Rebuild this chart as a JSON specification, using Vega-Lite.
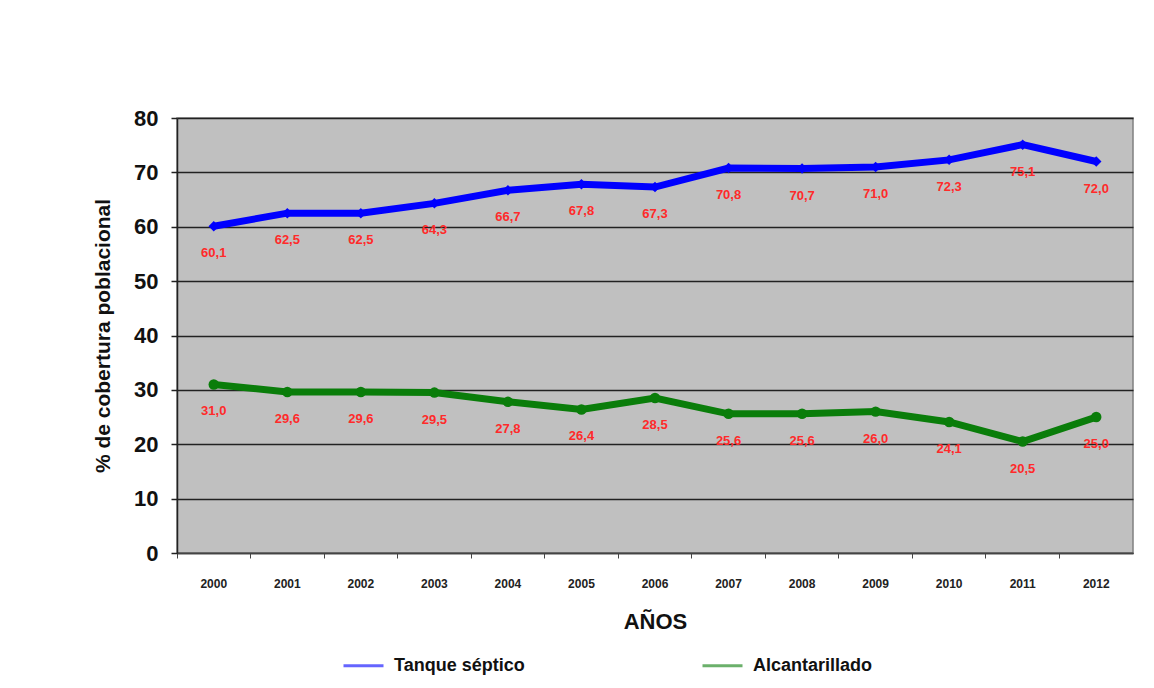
{
  "$schema": "https://vega.github.io/schema/vega-lite/v6.json",
  "width": 956,
  "height": 435,
  "autosize": {"type": "none"},
  "padding": {"left": 177, "top": 118, "right": 21, "bottom": 135},
  "background": "white",
  "data": {
    "values": [
      {"year": "2000", "serie": "Tanque séptico", "value": 60.1, "label": "60,1"},
      {"year": "2001", "serie": "Tanque séptico", "value": 62.5, "label": "62,5"},
      {"year": "2002", "serie": "Tanque séptico", "value": 62.5, "label": "62,5"},
      {"year": "2003", "serie": "Tanque séptico", "value": 64.3, "label": "64,3"},
      {"year": "2004", "serie": "Tanque séptico", "value": 66.7, "label": "66,7"},
      {"year": "2005", "serie": "Tanque séptico", "value": 67.8, "label": "67,8"},
      {"year": "2006", "serie": "Tanque séptico", "value": 67.3, "label": "67,3"},
      {"year": "2007", "serie": "Tanque séptico", "value": 70.8, "label": "70,8"},
      {"year": "2008", "serie": "Tanque séptico", "value": 70.7, "label": "70,7"},
      {"year": "2009", "serie": "Tanque séptico", "value": 71.0, "label": "71,0"},
      {"year": "2010", "serie": "Tanque séptico", "value": 72.3, "label": "72,3"},
      {"year": "2011", "serie": "Tanque séptico", "value": 75.1, "label": "75,1"},
      {"year": "2012", "serie": "Tanque séptico", "value": 72.0, "label": "72,0"},
      {"year": "2000", "serie": "Alcantarillado", "value": 31.0, "label": "31,0"},
      {"year": "2001", "serie": "Alcantarillado", "value": 29.6, "label": "29,6"},
      {"year": "2002", "serie": "Alcantarillado", "value": 29.6, "label": "29,6"},
      {"year": "2003", "serie": "Alcantarillado", "value": 29.5, "label": "29,5"},
      {"year": "2004", "serie": "Alcantarillado", "value": 27.8, "label": "27,8"},
      {"year": "2005", "serie": "Alcantarillado", "value": 26.4, "label": "26,4"},
      {"year": "2006", "serie": "Alcantarillado", "value": 28.5, "label": "28,5"},
      {"year": "2007", "serie": "Alcantarillado", "value": 25.6, "label": "25,6"},
      {"year": "2008", "serie": "Alcantarillado", "value": 25.6, "label": "25,6"},
      {"year": "2009", "serie": "Alcantarillado", "value": 26.0, "label": "26,0"},
      {"year": "2010", "serie": "Alcantarillado", "value": 24.1, "label": "24,1"},
      {"year": "2011", "serie": "Alcantarillado", "value": 20.5, "label": "20,5"},
      {"year": "2012", "serie": "Alcantarillado", "value": 25.0, "label": "25,0"}
    ]
  },
  "encoding": {
    "x": {
      "field": "year",
      "type": "ordinal",
      "scale": {"type": "band", "paddingInner": 0, "paddingOuter": 0},
      "axis": {
        "title": "AÑOS",
        "titleFont": "Liberation Sans",
        "titleFontSize": 22,
        "titleFontWeight": "bold",
        "titleColor": "#111",
        "titlePadding": 22,
        "labelAngle": 0,
        "labelFont": "Liberation Sans",
        "labelFontSize": 12,
        "labelFontWeight": "bold",
        "labelColor": "#222",
        "labelPadding": 20,
        "bandPosition": 0,
        "ticks": true,
        "tickSize": 5,
        "tickColor": "#444",
        "domainColor": "#444",
        "domainWidth": 1.5,
        "grid": false
      }
    },
    "y": {
      "field": "value",
      "type": "quantitative",
      "scale": {"domain": [0, 80], "nice": false},
      "axis": {
        "title": "% de cobertura  poblacional",
        "titleFont": "Liberation Sans",
        "titleFontSize": 21,
        "titleFontWeight": "bold",
        "titleColor": "#111",
        "titlePadding": 20,
        "values": [0, 10, 20, 30, 40, 50, 60, 70, 80],
        "labelFont": "Liberation Sans",
        "labelFontSize": 22,
        "labelFontWeight": "bold",
        "labelColor": "#111",
        "labelPadding": 13,
        "tickSize": 6,
        "tickColor": "#222",
        "tickWidth": 1.5,
        "domainColor": "#222",
        "domainWidth": 1.5,
        "grid": true,
        "gridColor": "#222",
        "gridWidth": 1.5
      }
    },
    "color": {
      "field": "serie",
      "type": "nominal",
      "scale": {"domain": ["Tanque séptico", "Alcantarillado"], "range": ["#0000ff", "#0a7d0a"]},
      "legend": {
        "title": null,
        "orient": "none",
        "legendX": 165,
        "legendY": 526,
        "direction": "horizontal",
        "symbolType": "stroke",
        "symbolStrokeWidth": 3,
        "symbolSize": 1600,
        "symbolOpacity": 0.6,
        "columnPadding": 171,
        "labelFont": "Liberation Sans",
        "labelFontSize": 18,
        "labelFontWeight": "bold",
        "labelColor": "#111",
        "labelOffset": 9
      }
    }
  },
  "layer": [
    {
      "mark": {"type": "line", "strokeWidth": 7}
    },
    {
      "transform": [{"filter": "datum.serie === 'Tanque séptico'"}],
      "mark": {"type": "point", "filled": true, "opacity": 1, "size": 110, "shape": "diamond"}
    },
    {
      "transform": [{"filter": "datum.serie === 'Alcantarillado'"}],
      "mark": {"type": "point", "filled": true, "opacity": 1, "size": 110, "shape": "circle"}
    },
    {
      "mark": {"type": "text", "dy": 27, "font": "Liberation Sans", "fontSize": 13, "fontWeight": "bold", "color": "#ff2a2a"},
      "encoding": {
        "text": {"field": "label"},
        "color": {"value": "#ff2a2a"}
      }
    }
  ],
  "config": {
    "view": {"fill": "#c0c0c0", "stroke": "#808080", "strokeWidth": 1.5}
  }
}
